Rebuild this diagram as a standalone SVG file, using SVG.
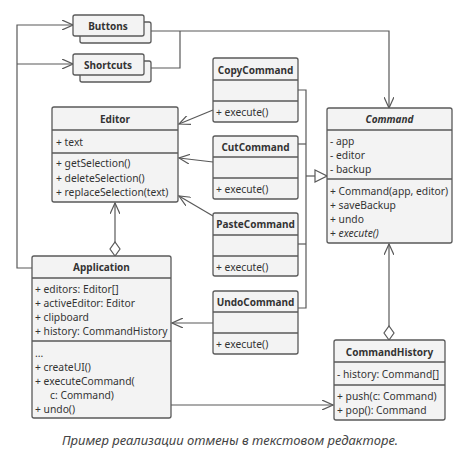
<svg xmlns="http://www.w3.org/2000/svg" width="459" height="460" viewBox="0 0 459 460">
<defs>
<style>
.box{fill:#f3f3f3;stroke:#595959;stroke-width:1.3}
.sep{stroke:#595959;stroke-width:1.3}
.ln{fill:none;stroke:#595959;stroke-width:1.2}
.t{font-family:"Noto Sans",sans-serif;font-size:10.3px;fill:#333}
.h{font-family:"Noto Sans",sans-serif;font-size:10px;font-weight:bold;fill:#333;text-anchor:middle}
.i{font-style:italic}
.cap{font-family:"Noto Sans",sans-serif;font-size:13px;font-style:italic;fill:#444;text-anchor:middle}
</style>
<marker id="arr" markerWidth="12" markerHeight="10" refX="11" refY="5" orient="auto" markerUnits="userSpaceOnUse">
<path d="M0,0 L11,5 L0,10" fill="none" stroke="#595959" stroke-width="1.2"/>
</marker>
<marker id="tri" markerWidth="14" markerHeight="14" refX="13" refY="7" orient="auto" markerUnits="userSpaceOnUse">
<path d="M1,1 L13,7 L1,13 Z" fill="#fff" stroke="#595959" stroke-width="1.2"/>
</marker>
<marker id="dia" markerWidth="16" markerHeight="12" refX="1" refY="6" orient="auto" markerUnits="userSpaceOnUse">
<path d="M1,6 L8,1 L15,6 L8,11 Z" fill="#fff" stroke="#595959" stroke-width="1.2"/>
</marker>
</defs>
<rect width="459" height="460" fill="#fff"/>
<g id="connectors">
<path class="ln" d="M151,31 H389 V108" marker-end="url(#arr)"/>
<path class="ln" d="M151,68 H180 V31"/>
<path class="ln" d="M32,268 H17 V25 H73" marker-end="url(#arr)"/>
<path class="ln" d="M17,64 H73" marker-end="url(#arr)"/>
<path class="ln" d="M298,90 H306 V308 H298"/>
<path class="ln" d="M298,144 H306"/>
<path class="ln" d="M298,244 H306"/>
<path class="ln" d="M306,176 H327" marker-end="url(#tri)"/>
<path class="ln" d="M213,110 L179,124" marker-end="url(#arr)"/>
<path class="ln" d="M213,162 L179,158" marker-end="url(#arr)"/>
<path class="ln" d="M213,216 L179,196" marker-end="url(#arr)"/>
<path class="ln" d="M115,256 V203" marker-start="url(#dia)" marker-end="url(#arr)"/>
<path class="ln" d="M213,323 H172" marker-end="url(#arr)"/>
<path class="ln" d="M171,405 H333" marker-end="url(#arr)"/>
<path class="ln" d="M389,340 V244" marker-start="url(#dia)" marker-end="url(#arr)"/>
</g>
<g id="buttons">
<rect class="box" x="80" y="22" width="71" height="21" rx="2"/>
<rect class="box" x="73" y="15" width="71" height="21" rx="2"/>
<text class="h" x="108" y="29.5">Buttons</text>
</g>
<g id="shortcuts">
<rect class="box" x="80" y="61" width="71" height="21" rx="2"/>
<rect class="box" x="73" y="54" width="71" height="21" rx="2"/>
<text class="h" x="108" y="68.5">Shortcuts</text>
</g>
<g id="editor">
<rect class="box" x="52" y="107" width="126" height="95" rx="2"/>
<line class="sep" x1="52" y1="130" x2="178" y2="130"/>
<line class="sep" x1="52" y1="153" x2="178" y2="153"/>
<text class="h" x="115" y="122.5">Editor</text>
<text class="t" x="56" y="146">+ text</text>
<text class="t" x="56" y="167">+ getSelection()</text>
<text class="t" x="56" y="182">+ deleteSelection()</text>
<text class="t" x="56" y="196">+ replaceSelection(text)</text>
</g>
<g id="copy">
<rect class="box" x="213" y="58" width="85" height="64" rx="2"/>
<line class="sep" x1="213" y1="80" x2="298" y2="80"/>
<line class="sep" x1="213" y1="101" x2="298" y2="101"/>
<text class="h" x="255.5" y="73.5">CopyCommand</text>
<text class="t" x="216" y="116">+ execute()</text>
</g>
<g id="cut">
<rect class="box" x="213" y="136" width="85" height="63" rx="2"/>
<line class="sep" x1="213" y1="157" x2="298" y2="157"/>
<line class="sep" x1="213" y1="178" x2="298" y2="178"/>
<text class="h" x="255.5" y="150.5">CutCommand</text>
<text class="t" x="216" y="193">+ execute()</text>
</g>
<g id="paste">
<rect class="box" x="213" y="213" width="85" height="63" rx="2"/>
<line class="sep" x1="213" y1="235" x2="298" y2="235"/>
<line class="sep" x1="213" y1="256" x2="298" y2="256"/>
<text class="h" x="255.5" y="227.5">PasteCommand</text>
<text class="t" x="216" y="271">+ execute()</text>
</g>
<g id="undo">
<rect class="box" x="213" y="291" width="85" height="63" rx="2"/>
<line class="sep" x1="213" y1="312" x2="298" y2="312"/>
<line class="sep" x1="213" y1="333" x2="298" y2="333"/>
<text class="h" x="255.5" y="305.5">UndoCommand</text>
<text class="t" x="216" y="348">+ execute()</text>
</g>
<g id="command">
<rect class="box" x="327" y="108" width="125" height="135" rx="2"/>
<line class="sep" x1="327" y1="130" x2="452" y2="130"/>
<line class="sep" x1="327" y1="179" x2="452" y2="179"/>
<text class="h i" x="389.5" y="122.5">Command</text>
<text class="t" x="330" y="145">- app</text>
<text class="t" x="330" y="159">- editor</text>
<text class="t" x="330" y="173">- backup</text>
<text class="t" x="330" y="195">+ Command(app, editor)</text>
<text class="t" x="330" y="209">+ saveBackup</text>
<text class="t" x="330" y="223">+ undo</text>
<text class="t" x="330" y="237">+ <tspan class="i">execute()</tspan></text>
</g>
<g id="application">
<rect class="box" x="32" y="256" width="139" height="162" rx="2"/>
<line class="sep" x1="32" y1="278" x2="171" y2="278"/>
<line class="sep" x1="32" y1="341" x2="171" y2="341"/>
<text class="h" x="101.5" y="270.5">Application</text>
<text class="t" x="35" y="293">+ editors: Editor[]</text>
<text class="t" x="35" y="307">+ activeEditor: Editor</text>
<text class="t" x="35" y="321">+ clipboard</text>
<text class="t" x="35" y="335">+ history: CommandHistory</text>
<text class="t" x="35" y="357">...</text>
<text class="t" x="35" y="371">+ createUI()</text>
<text class="t" x="35" y="385">+ executeCommand(</text>
<text class="t" x="50" y="399">c: Command)</text>
<text class="t" x="35" y="413">+ undo()</text>
</g>
<g id="history">
<rect class="box" x="334" y="340" width="111" height="80" rx="2"/>
<line class="sep" x1="334" y1="362" x2="445" y2="362"/>
<line class="sep" x1="334" y1="385" x2="445" y2="385"/>
<text class="h" x="389.5" y="355.5">CommandHistory</text>
<text class="t" x="337" y="378">- history: Command[]</text>
<text class="t" x="337" y="400">+ push(c: Command)</text>
<text class="t" x="337" y="414">+ pop(): Command</text>
</g>
<text class="cap" x="230" y="445">Пример реализации отмены в текстовом редакторе.</text>
</svg>
